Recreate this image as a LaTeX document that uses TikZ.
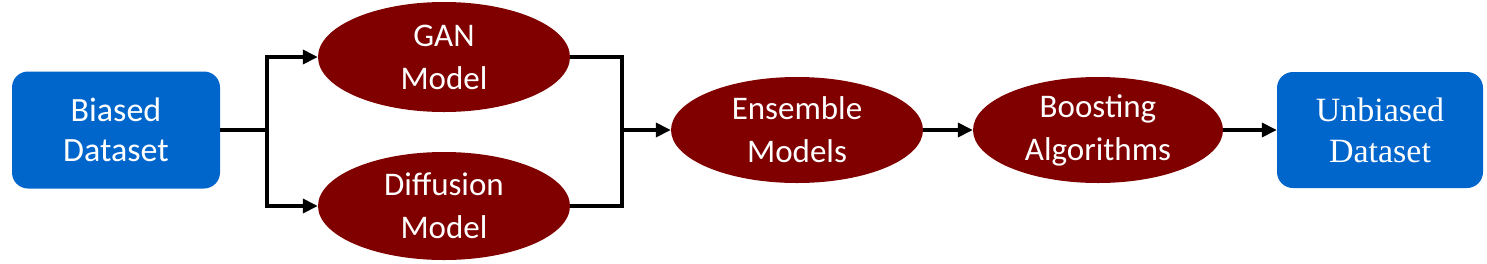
\documentclass[tikz,border=0pt]{standalone}
\usepackage{fontspec}
\setmainfont{Carlito}
\newfontfamily\tnr{Liberation Serif}
\usetikzlibrary{shapes.geometric,arrows.meta}
\definecolor{boxblue}{HTML}{0066CC}
\definecolor{maroonfill}{HTML}{800000}
\tikzset{
  databox/.style={rectangle, rounded corners=16pt, fill=boxblue, text=white, minimum width=208pt, minimum height=117pt, inner sep=0pt, align=center, font=\fontsize{34}{40}\selectfont},
  modelell/.style={ellipse, fill=maroonfill, text=white, minimum width=252pt, minimum height=108pt, inner sep=0pt, align=center, font=\fontsize{33}{43}\selectfont},
  conn/.style={line width=3.6pt, black},
  arr/.style={conn, -{Triangle[length=15pt,width=14pt]}}
}
\begin{document}
\begin{tikzpicture}[x=1pt,y=-1pt]
\useasboundingbox (0,0) rectangle (1487,263);
\node[databox] (biased) at (116,130) {Biased\\Dataset};
\node[modelell, minimum height=110pt] (gan) at (444,57) {GAN\\Model};
\node[modelell] (diff) at (444,206) {Diffusion\\Model};
\node[modelell, minimum height=106pt] (ens) at (797,130) {Ensemble\\Models};
\node[modelell, minimum height=106pt, minimum width=250pt] (boost) at (1098,130) {Boosting\\Algorithms};
\node[databox, minimum width=206pt, minimum height=116pt, font=\tnr\fontsize{34}{41}\selectfont] (unb) at (1380,130) {Unbiased\\Dataset};
\coordinate (j1) at (267,130);
\coordinate (j2) at (622,130);
\draw[conn] (biased.east) -- (j1);
\draw[arr] (j1) |- (gan.west);
\draw[arr] (j1) |- (diff.west);
\draw[conn] (gan.east) -| (j2) |- (diff.east);
\draw[arr] (j2) -- (ens.west);
\draw[arr] (ens.east) -- (boost.west);
\draw[arr] (boost.east) -- (unb.west);
\end{tikzpicture}
\end{document}
